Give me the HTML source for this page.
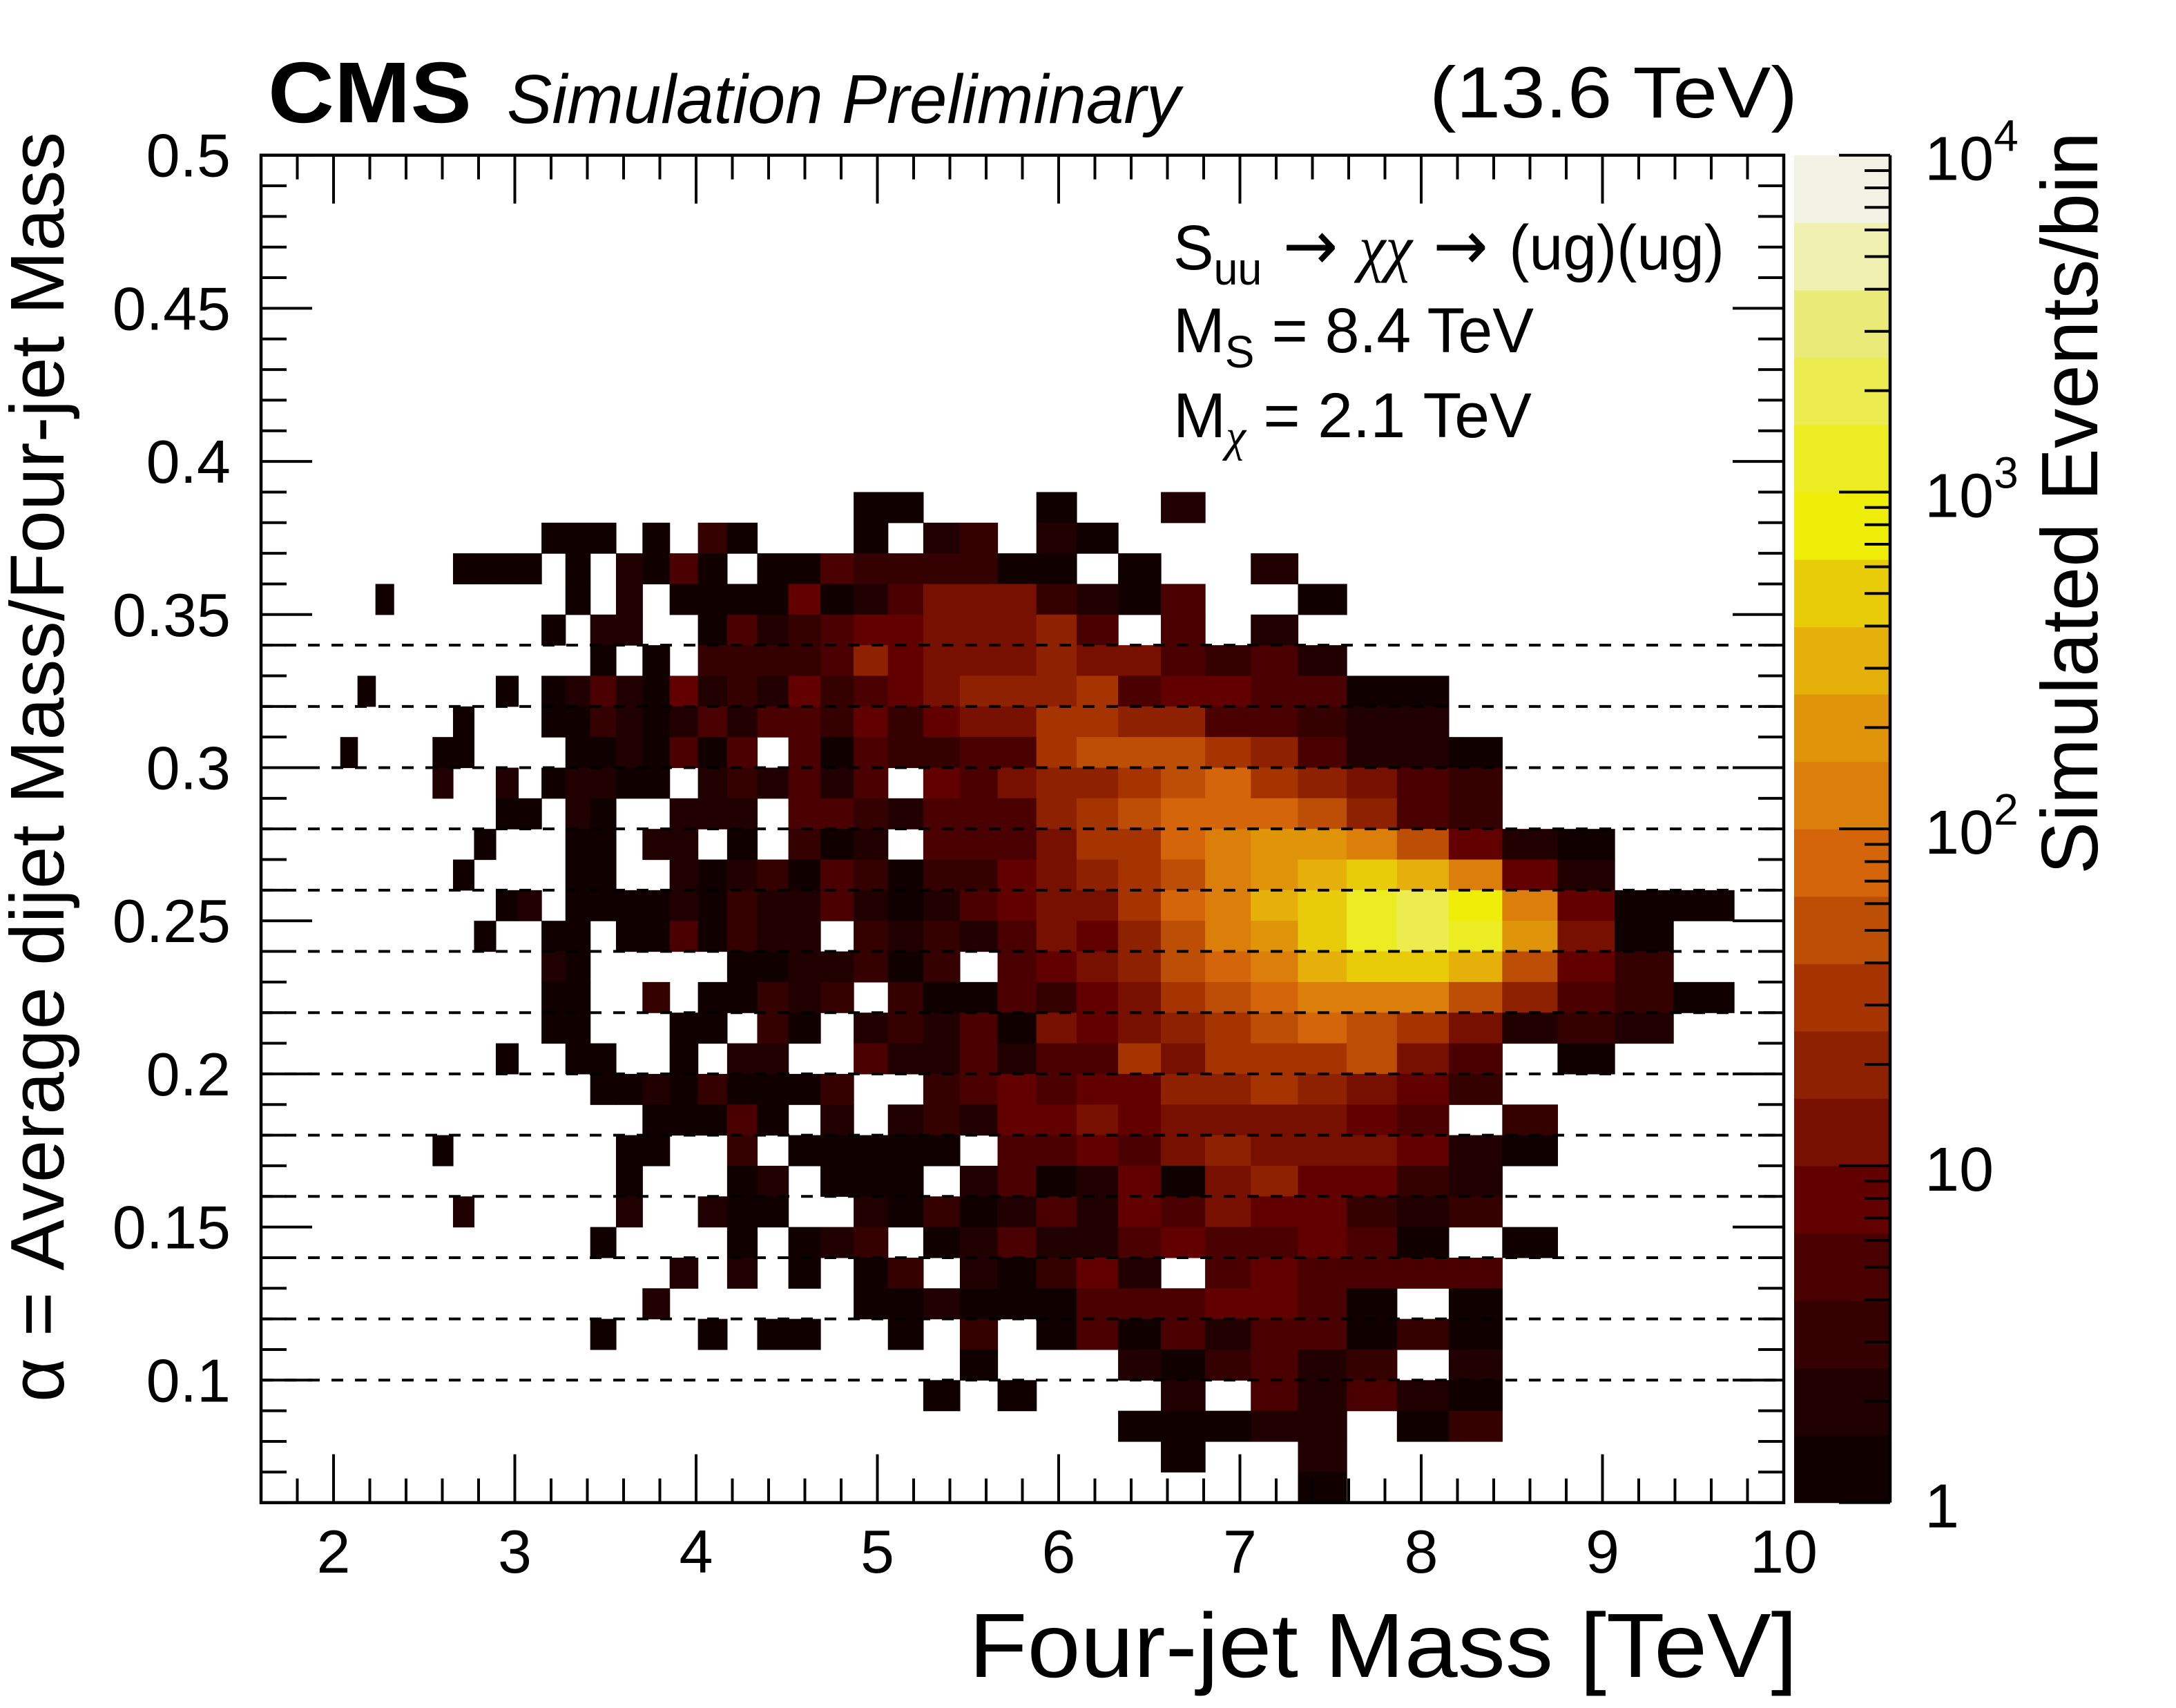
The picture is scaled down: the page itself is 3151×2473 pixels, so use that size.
<!DOCTYPE html>
<html>
<head>
<meta charset="utf-8">
<style>
html,body{margin:0;padding:0;background:#fff;}
svg{display:block;}
text{font-family:"Liberation Sans",Arial,sans-serif;fill:#000;}
</style>
</head>
<body>
<svg id="chart" width="3151" height="2473" viewBox="0 0 3151 2473" xmlns="http://www.w3.org/2000/svg">
<rect x="0" y="0" width="3151" height="2473" fill="#fff"/>
<defs><clipPath id="plotclip"><rect x="378" y="225" width="2205" height="1951"/></clipPath></defs>
<g id="cells" clip-path="url(#plotclip)"></g>
<g id="dashes"></g>
<g id="axes"></g>
<g id="cbar"></g>

<text x="388" y="177" font-size="125" font-weight="bold" textLength="295" lengthAdjust="spacingAndGlyphs">CMS</text>
<text x="734" y="178" font-size="100" font-style="italic" textLength="975" lengthAdjust="spacingAndGlyphs">Simulation Preliminary</text>
<text x="2070" y="170" font-size="105" textLength="533" lengthAdjust="spacingAndGlyphs">(13.6 TeV)</text>

<text x="1699" y="390" font-size="92" textLength="798" lengthAdjust="spacingAndGlyphs">S<tspan font-size="66" dy="22">uu</tspan><tspan dy="-22" font-family="'DejaVu Sans',sans-serif" font-size="100"> → </tspan><tspan font-family="'Liberation Serif',serif" font-style="italic">χχ</tspan><tspan font-family="'DejaVu Sans',sans-serif" font-size="100"> → </tspan>(ug)(ug)</text>
<text x="1699" y="510" font-size="92" textLength="522" lengthAdjust="spacingAndGlyphs">M<tspan font-size="66" dy="22">S</tspan><tspan dy="-22"> = 8.4 TeV</tspan></text>
<text x="1699" y="633" font-size="92" textLength="519" lengthAdjust="spacingAndGlyphs">M<tspan font-size="66" dy="20" font-family="'Liberation Serif',serif" font-style="italic">χ</tspan><tspan dy="-20"> = 2.1 TeV</tspan></text>

<text x="2603" y="2428" font-size="132" text-anchor="end" textLength="1200" lengthAdjust="spacingAndGlyphs">Four-jet Mass [TeV]</text>
<text transform="translate(92,2030) rotate(-90)" font-size="110" textLength="1839" lengthAdjust="spacingAndGlyphs">α = Average dijet Mass/Four-jet Mass</text>
<text transform="translate(3037,1266) rotate(-90)" font-size="116" textLength="1075" lengthAdjust="spacingAndGlyphs">Simulated Events/bin</text>
</svg>
<script>
// ---- data ----
const massEdges = [1.607,1.687,1.770,1.856,1.945,2.037,2.132,2.231,2.332,2.438,2.546,2.659,2.775,2.895,3.019,3.147,3.279,3.416,3.558,3.704,3.854,4.010,4.171,4.337,4.509,4.686,4.869,5.058,5.253,5.455,5.663,5.877,6.099,6.328,6.564,6.808,7.060,7.320,7.589,7.866,8.152,8.447,8.752,9.067,9.391,9.726,10.072];
const firstBin = 5;
const rowAlpha = [0.38,0.37,0.36,0.35,0.34,0.33,0.32,0.31,0.30,0.29,0.28,0.27,0.26,0.25,0.24,0.23,0.22,0.21,0.20,0.19,0.18,0.17,0.16,0.15,0.14,0.13,0.12,0.11,0.10,0.09,0.08,0.07,0.06];
const counts = [
[0,0,0,0,0,0,0,0,0,0, 0,0,0,0,0,0,0,0,0,0, 0,1,1,0,0,0,1,0,0,2, 0,0,0,0,0,0,0,0,0,0],
[0,0,0,0,0,0,0,0,0,0, 1,1,1,0,1,0,3,1,0,0, 0,1,0,2,3,0,2,1,0,0, 0,0,0,0,0,0,0,0,0,0],
[0,0,0,0,0,0,1,1,1,1, 0,1,0,2,1,5,1,0,1,1, 5,3,3,3,3,1,1,0,1,0, 0,2,0,0,0,0,0,0,0,0],
[0,0,1,0,0,0,0,0,0,0, 0,1,0,2,0,1,1,1,1,8, 1,2,5,12,12,12,3,2,1,5, 0,0,1,0,0,0,0,0,0,0],
[0,0,0,0,0,0,0,0,0,0, 1,0,2,2,0,0,1,5,2,3, 5,8,8,12,12,12,20,5,0,5, 0,2,0,0,0,0,0,0,0,0],
[0,0,0,0,0,0,0,0,0,0, 0,0,1,0,1,0,3,3,3,3, 5,20,8,12,12,12,20,12,12,5, 3,5,2,0,0,0,0,0,0,0],
[0,1,0,0,0,0,0,0,1,0, 1,2,5,2,1,8,2,3,2,8, 3,5,8,12,20,20,20,30,5,8, 8,5,5,1,1,0,0,0,0,0],
[0,0,0,0,0,0,1,0,0,0, 1,1,3,2,1,2,5,2,5,5, 3,8,3,8,12,12,30,30,20,20, 5,5,3,2,2,0,0,0,0,0],
[1,0,0,0,0,1,1,0,0,0, 0,1,1,2,1,5,1,5,0,5, 1,5,3,3,5,5,30,50,50,50, 30,20,5,2,2,1,0,0,0,0],
[0,0,0,0,0,2,0,0,2,0, 1,2,2,1,1,0,2,3,2,5, 2,5,0,8,5,12,20,20,30,50, 80,30,20,12,5,3,0,0,0,0],
[0,0,0,0,0,0,0,0,1,1, 0,2,1,0,0,2,2,2,0,5, 5,3,2,5,5,5,20,30,50,80, 80,80,50,20,5,3,0,0,0,0],
[0,0,0,0,0,0,0,1,0,0, 0,1,1,0,2,2,0,1,0,3, 1,2,0,5,5,5,12,30,30,80, 120,200,200,120,50,8,2,1,0,0],
[0,0,0,0,0,0,1,0,0,0, 0,1,1,0,0,2,1,2,3,1, 5,3,1,3,3,8,12,20,30,50, 120,200,300,500,300,120,8,2,0,0],
[0,0,0,0,0,0,0,0,1,2, 0,1,1,1,1,2,1,3,2,2, 5,2,1,2,5,8,12,12,30,80, 120,300,500,1200,2000,800,120,8,1,1],
[0,0,0,0,0,0,0,1,0,0, 1,1,0,1,1,5,1,3,2,2, 0,3,2,3,2,5,12,8,20,50, 120,200,500,1200,2000,1200,200,12,1,0],
[0,0,0,0,0,0,0,0,0,0, 2,1,0,0,0,0,0,1,1,2, 2,3,1,3,0,5,8,12,20,50, 80,120,300,500,500,300,50,8,3,0],
[0,0,0,0,0,0,0,0,0,0, 1,1,0,0,3,0,1,1,3,2, 3,0,3,1,1,5,3,8,12,30, 50,80,120,120,120,50,20,5,3,1],
[0,0,0,0,0,0,0,0,0,0, 1,1,0,0,0,1,1,0,3,1, 0,2,3,2,5,1,12,8,12,20, 30,50,80,50,30,12,2,3,2,0],
[0,0,0,0,0,0,0,0,1,0, 0,1,1,0,0,1,0,2,2,0, 0,5,2,2,5,2,5,5,30,12, 30,30,30,50,12,5,0,1,0,0],
[0,0,0,0,0,0,0,0,0,0, 0,0,1,1,2,1,3,1,1,1, 3,0,0,3,5,8,5,8,8,20, 20,30,20,12,8,3,0,0,0,0],
[0,0,0,0,0,0,0,0,0,0, 0,0,0,0,1,1,1,5,1,0, 2,0,2,3,2,8,8,12,8,12, 12,12,12,8,5,0,3,0,0,0],
[0,0,0,0,0,1,0,0,0,0, 0,0,0,1,1,0,0,3,0,1, 1,1,1,1,0,5,5,8,5,12, 20,12,12,12,8,2,1,0,0,0],
[0,0,0,0,0,0,0,0,0,0, 0,0,0,1,0,0,0,1,2,0, 1,1,1,0,2,5,1,2,8,1, 12,20,8,8,3,2,0,0,0,0],
[0,0,0,0,0,0,2,0,0,0, 0,0,0,2,0,0,2,1,1,0, 0,2,1,3,1,2,5,2,8,5, 12,8,8,3,2,3,0,0,0,0],
[0,0,0,0,0,0,0,0,0,0, 0,0,1,0,0,0,0,1,0,1, 2,3,0,1,2,5,2,2,5,8, 5,5,8,5,1,0,1,0,0,0],
[0,0,0,0,0,0,0,0,0,0, 0,0,0,0,0,2,0,2,0,1, 0,1,3,0,2,1,3,8,2,0, 5,8,5,5,5,5,0,0,0,0],
[0,0,0,0,0,0,0,0,0,0, 0,0,0,0,2,0,0,0,0,0, 0,1,1,2,1,1,1,5,5,5, 8,8,5,1,0,1,0,0,0,0],
[0,0,0,0,0,0,0,0,0,0, 0,0,1,0,0,0,1,0,1,1, 0,0,1,0,3,0,1,5,1,5, 2,5,5,1,3,1,0,0,0,0],
[0,0,0,0,0,0,0,0,0,0, 0,0,0,0,0,0,0,0,0,0, 0,0,0,0,1,0,0,0,2,1, 3,5,2,3,0,2,0,0,0,0],
[0,0,0,0,0,0,0,0,0,0, 0,0,0,0,0,0,0,0,0,0, 0,0,0,1,0,1,0,0,0,2, 0,5,2,5,2,1,0,0,0,0],
[0,0,0,0,0,0,0,0,0,0, 0,0,0,0,0,0,0,0,0,0, 0,0,0,0,0,0,0,0,1,1, 1,2,2,0,1,3,0,0,0,0],
[0,0,0,0,0,0,0,0,0,0, 0,0,0,0,0,0,0,0,0,0, 0,0,0,0,0,0,0,0,0,1, 0,0,2,0,0,0,0,0,0,0],
[0,0,0,0,0,0,0,0,0,0, 0,0,0,0,0,0,0,0,0,0, 0,0,0,0,0,0,0,0,0,0, 0,0,1,0,0,0,0,0,0,0]
];
const xTickLabels = ["2","3","4","5","6","7","8","9","10"];
const yTickLabels = ["0.1","0.15","0.2","0.25","0.3","0.35","0.4","0.45","0.5"];
const dashedAlphas = [0.10,0.12,0.14,0.16,0.18,0.20,0.22,0.24,0.26,0.28,0.30,0.32,0.34];
const paletteColors = ["#100000","#200000","#350000","#4a0000","#620000","#781000","#8e2200","#a63400","#bd4e05","#d4650a","#dc7f0a","#e0940a","#e6b00a","#e8cc0a","#eeee08","#ecec22","#ecec50","#eaea78","#f0f0b0","#f2f2e4"];

// ---- scales ----
const X0 = 483, XPER = 262.5;
const Y30 = 1111.5, YPER = 4434;
const xS = m => X0 + (m - 2) * XPER;
const yS = a => Y30 + (0.30 - a) * YPER;
const PL = xS(1.6), PR = xS(10), PT = yS(0.5), PB = yS(0.06);
const CB_L = 2598, CB_R = 2737, CB_T = PT, CB_B = PB;
const cS = v => CB_B - Math.log10(v) / 4 * (CB_B - CB_T);
function colorFor(c){ let l = Math.floor(Math.log10(c) * 5 + 1e-9); if (l < 0) l = 0; if (l > 19) l = 19; return paletteColors[l]; }

const NS = "http://www.w3.org/2000/svg";
function mk(tag, attrs, parent){ const e = document.createElementNS(NS, tag); for (const k in attrs) e.setAttribute(k, attrs[k]); parent.appendChild(e); return e; }

// ---- cells ----
const gCells = document.getElementById('cells');
rowAlpha.forEach((a, r) => {
  counts[r].forEach((c, p) => {
    if (!c) return;
    const m0 = massEdges[firstBin + p], m1 = Math.min(10, massEdges[firstBin + p + 1]);
    const x0 = xS(m0), x1 = xS(m1), y0 = yS(a + 0.01), y1 = yS(a);
    const el = mk('rect', {x: x0.toFixed(2), y: y0.toFixed(2), width: (x1 - x0 + 0.6).toFixed(2), height: (y1 - y0 + 0.6).toFixed(2), fill: colorFor(c)}, gCells);
    
    
  });
});

// ---- dashed lines ----
const gD = document.getElementById('dashes');
dashedAlphas.forEach(a => {
  const el = mk('line', {x1: PL, x2: PR, y1: yS(a), y2: yS(a), stroke: '#000', 'stroke-width': 4, 'stroke-dasharray': '17 17'}, gD);
  
  
});

// ---- axes ----
const gA = document.getElementById('axes');
const frame = mk('rect', {x: PL, y: PT, width: PR - PL, height: PB - PT, fill: 'none', stroke: '#000', 'stroke-width': 4.5}, gA);


for (let k = 8; k <= 50; k++) {
  const m = k * 0.2, x = xS(m), L = (k % 5 === 0) ? 70 : 35;
  const t1 = mk('line', {x1: x, x2: x, y1: PB, y2: PB - L, stroke: '#000', 'stroke-width': 4}, gA);
  
  
  const t2 = mk('line', {x1: x, x2: x, y1: PT, y2: PT + L, stroke: '#000', 'stroke-width': 4}, gA);
  
  
}
xTickLabels.forEach(s => {
  const el = mk('text', {x: xS(parseFloat(s)), y: 2277, 'font-size': 88, 'text-anchor': 'middle'}, gA);
  el.textContent = s;
  
  
});
for (let k = 6; k <= 50; k++) {
  const y = yS(k / 100), L = (k % 5 === 0) ? 74 : 37;
  const t1 = mk('line', {x1: PL, x2: PL + L, y1: y, y2: y, stroke: '#000', 'stroke-width': 4}, gA);
  
  
  const t2 = mk('line', {x1: PR, x2: PR - L, y1: y, y2: y, stroke: '#000', 'stroke-width': 4}, gA);
  
  
}
yTickLabels.forEach(s => {
  const el = mk('text', {x: 334, y: yS(parseFloat(s)) + 31, 'font-size': 88, 'text-anchor': 'end'}, gA);
  el.textContent = s;
  
  
});

// ---- colour bar ----
const gC = document.getElementById('cbar');
const bandH = (CB_B - CB_T) / paletteColors.length;
paletteColors.forEach((col, i) => {
  const el = mk('rect', {x: CB_L, y: (CB_B - (i + 1) * bandH).toFixed(2), width: CB_R - CB_L, height: (bandH + 0.6).toFixed(2), fill: col}, gC);
  
  
});
const cbAxis = mk('line', {x1: CB_R, x2: CB_R, y1: CB_T, y2: CB_B, stroke: '#000', 'stroke-width': 4.5}, gC);


for (let d = 0; d <= 4; d++) {
  const y = cS(Math.pow(10, d));
  const t = mk('line', {x1: CB_R, x2: CB_R - 74, y1: y, y2: y, stroke: '#000', 'stroke-width': 4}, gC);
  
  
  if (d < 4) for (let j = 2; j <= 9; j++) {
    const yy = cS(j * Math.pow(10, d));
    const tm = mk('line', {x1: CB_R, x2: CB_R - 37, y1: yy, y2: yy, stroke: '#000', 'stroke-width': 4}, gC);
    
    
  }
  const lab = mk('text', {x: 2787, y: y + 36, 'font-size': 90}, gC);
  
  
  if (d === 0) lab.textContent = '1';
  else if (d === 1) lab.textContent = '10';
  else {
    lab.textContent = '10';
    const sup = mk('tspan', {'font-size': 64, dy: -42}, lab);
    sup.textContent = String(d);
  }
}
</script>
</body>
</html>
